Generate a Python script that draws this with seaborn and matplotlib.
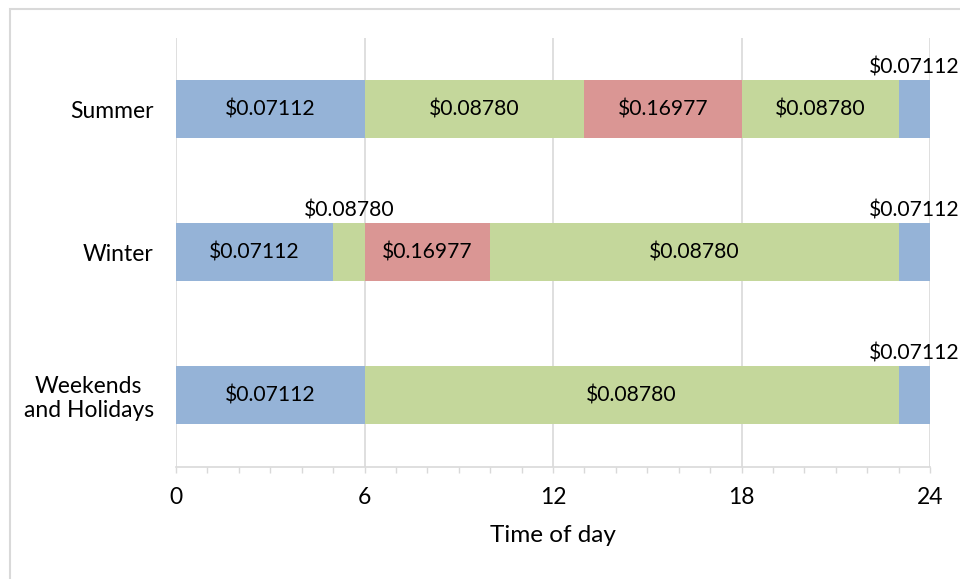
import matplotlib
matplotlib.use("Agg")
import matplotlib.pyplot as plt
import seaborn as sns
import pandas as pd
from matplotlib.patches import Rectangle

# ---- data ----
seasons = ["Summer", "Winter", "Weekends\nand Holidays"]
summer_ends = [6, 13, 18, 23, 24]
summer_rates = [0.07112, 0.08780, 0.16977, 0.08780, 0.07112]
winter_ends = [5, 6, 10, 23, 24]
winter_rates = [0.07112, 0.08780, 0.16977, 0.08780, 0.07112]
weekend_ends = [6, 23, 24]
weekend_rates = [0.07112, 0.08780, 0.07112]
x_ticks = [0, 6, 12, 18, 24]
x_label = "Time of day"

rate_colors = {0.07112: "#95B3D7", 0.08780: "#C4D79B", 0.16977: "#DA9694"}

sns.set_theme(style="white")
plt.rcParams["font.family"] = ["Lato", "DejaVu Sans"]

fig = plt.figure(figsize=(9.6, 5.79), dpi=100)
ax = fig.add_axes([176 / 960, 1 - 466.5 / 579, 754 / 960, 429 / 579])

# outer light border
fig.patches.append(Rectangle((10 / 960, -0.05), 1.0, 1 - 9 / 579 + 0.05,
                             transform=fig.transFigure, fill=False,
                             edgecolor="#D9D9D9", linewidth=1.5, zorder=0))

rows = []
for s, ends, rates in [(seasons[0], summer_ends, summer_rates),
                       (seasons[1], winter_ends, winter_rates),
                       (seasons[2], weekend_ends, weekend_rates)]:
    start = 0
    for i, (e, r) in enumerate(zip(ends, rates)):
        rows.append(dict(season=s, idx=i, start=start, end=e, rate=r))
        start = e
df = pd.DataFrame(rows)

# layered drawing: widest cumulative bar first, earlier segments on top
for _, row in df.sort_values("end", ascending=False).iterrows():
    sns.barplot(x=[row["end"]], y=[row["season"]], order=seasons, orient="h",
                color=rate_colors[row["rate"]], width=0.4, saturation=1,
                linewidth=0, ax=ax, zorder=3)

pos = {s: i for i, s in enumerate(seasons)}
for _, row in df.iterrows():
    mid = (row["start"] + row["end"]) / 2
    y = pos[row["season"]]
    label = f"${row['rate']:.5f}"
    if row["end"] - row["start"] >= 3:
        ax.text(mid, y, label, ha="center", va="center", fontsize=15.2,
                color="black", zorder=5)
    else:
        ax.annotate(label, (mid, y - 0.2), xytext=(0, 2),
                    textcoords="offset points", ha="center", va="bottom",
                    fontsize=15.2, color="black", zorder=5)

ax.set_xlim(0, 24)
ax.set_ylim(2.5, -0.5)
ax.set_xticks(x_ticks)
ax.set_xticks(range(0, 25), minor=True)
ax.xaxis.grid(True, which="major", color="#D9D9D9", linewidth=1.2, zorder=0)
ax.set_axisbelow(True)
for sp in ["top", "right", "left"]:
    ax.spines[sp].set_visible(False)
ax.spines["bottom"].set_color("#D9D9D9")
ax.spines["bottom"].set_linewidth(1.2)
ax.tick_params(axis="x", which="both", bottom=True, direction="out",
               length=4, width=1, color="#D9D9D9", labelsize=16.5, pad=11,
               labelcolor="black")
ax.tick_params(axis="y", length=0, labelsize=16.5, pad=16, labelcolor="black")
for t in ax.get_yticklabels():
    t.set_multialignment("center")
    t.set_linespacing(1.15)
ax.set_xlabel(x_label, fontsize=17.5, color="black", labelpad=12)
ax.set_ylabel("")

fig.savefig("out.png", dpi=100)
